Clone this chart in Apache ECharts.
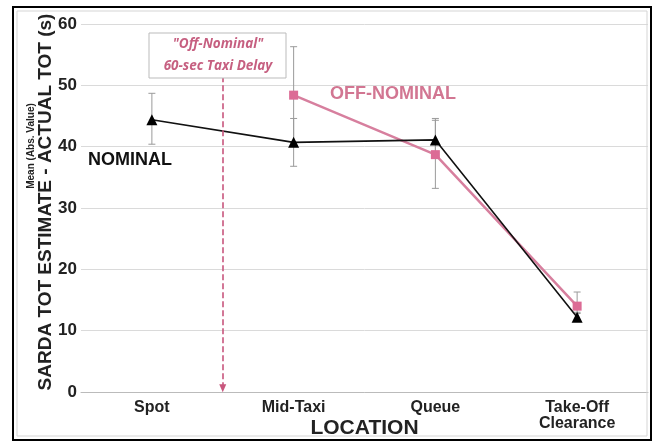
<!DOCTYPE html>
<html><head><meta charset="utf-8">
<script src="https://cdn.jsdelivr.net/npm/echarts@6/dist/echarts.min.js"></script>
<style>html,body{margin:0;padding:0;background:#fff}#c{width:655px;height:443px}</style>
</head><body><div id="c"></div>
<script>
var categories = ['Spot', 'Mid-Taxi', 'Queue', 'Take-Off\nClearance'];
var nominal = [44.4, 40.7, 41.1, 12.2];
var offNominal = [null, 48.4, 38.7, 14.0];
var nominalErr = [[0, 40.4, 48.7], [1, 36.8, 44.6], [2, 38.2, 44.3], [3, 11.6, 12.8]];
var offNominalErr = [[1, 40.6, 56.3], [2, 33.2, 44.6], [3, 13.0, 16.3]];
var yTicks = [0, 10, 20, 30, 40, 50, 60];
var delayPos = 0.5, delayTop = 51.5;

var FF = "'Liberation Sans', Arial, sans-serif";
var PINK = '#dc6b95', PINKLINE = '#d77f9e', PINKTXT = '#c65f80';

function errItem(color) {
  return function (params, api) {
    var x = api.value(0);
    var lo = api.coord([x, api.value(1)]);
    var hi = api.coord([x, api.value(2)]);
    var w = 3.5;
    var st = { stroke: color, lineWidth: 1 };
    return { type: 'group', children: [
      { type: 'line', shape: { x1: lo[0], y1: lo[1], x2: hi[0], y2: hi[1] }, style: st },
      { type: 'line', shape: { x1: lo[0] - w, y1: lo[1], x2: lo[0] + w, y2: lo[1] }, style: st },
      { type: 'line', shape: { x1: hi[0] - w, y1: hi[1], x2: hi[0] + w, y2: hi[1] }, style: st }
    ]};
  };
}

var chart = echarts.init(document.getElementById('c'));
chart.setOption({
  animation: false,
  backgroundColor: '#fff',
  grid: { left: 81, right: 7, top: 24, bottom: 51, containLabel: false, outerBoundsMode: 'none' },
  xAxis: [{
    type: 'category', data: categories, boundaryGap: true,
    axisTick: { show: false },
    axisLine: { lineStyle: { color: '#bbb', width: 1 } },
    axisLabel: { fontFamily: FF, fontWeight: 'bold', fontSize: 16, color: '#222', margin: 8, lineHeight: 16 },
    name: 'LOCATION', nameLocation: 'middle', nameGap: 36, nameMoveOverlap: false,
    nameTextStyle: { fontFamily: FF, fontWeight: 'bold', fontSize: 21, color: '#222', verticalAlign: 'middle' }
  }, {
    type: 'value', min: -0.5, max: 3.5, show: false
  }],
  yAxis: {
    type: 'value', min: yTicks[0], max: yTicks[yTicks.length - 1], interval: 10,
    axisLine: { show: false }, axisTick: { show: false },
    splitLine: { lineStyle: { color: '#dadada', width: 1 } },
    axisLabel: { fontFamily: FF, fontWeight: 'bold', fontSize: 17, color: '#222', margin: 4 }
  },
  graphic: [
    { type: 'rect', shape: { x: 13, y: 7, width: 638, height: 433 }, style: { fill: 'none', stroke: '#000', lineWidth: 2 }, z: 100 },
    { type: 'rect', shape: { x: 17, y: 11, width: 630, height: 425 }, style: { fill: 'none', stroke: '#d5d5d5', lineWidth: 1 }, z: 100 },
    { type: 'text', x: 46, y: 202, rotation: Math.PI / 2,
      style: { text: 'SARDA TOT ESTIMATE - ACTUAL TOT (s)', font: 'bold 19px ' + FF, fill: '#222', align: 'center', verticalAlign: 'middle' } },
    { type: 'text', x: 31, y: 146, rotation: Math.PI / 2,
      style: { text: 'Mean (Abs. Value)', font: 'bold 10px ' + FF, fill: '#222', align: 'center', verticalAlign: 'middle' } },
    { type: 'text', x: 130, y: 160,
      style: { text: 'NOMINAL', font: 'bold 18px ' + FF, fill: '#111', align: 'center', verticalAlign: 'middle' } },
    { type: 'text', x: 393, y: 94,
      style: { text: 'OFF-NOMINAL', font: 'bold 18px ' + FF, fill: '#d27692', align: 'center', verticalAlign: 'middle' } },
    { type: 'rect', shape: { x: 149, y: 33, width: 137, height: 45 }, style: { fill: '#fff', stroke: '#bbb', lineWidth: 1 }, z: 50 },
    { type: 'text', x: 218, y: 44, z: 51,
      style: { text: '"Off-Nominal"', font: 'italic bold 13.5px "Open Sans", sans-serif', fill: PINKTXT, align: 'center', verticalAlign: 'middle' } },
    { type: 'text', x: 218, y: 66, z: 51,
      style: { text: '60-sec Taxi Delay', font: 'italic bold 13.5px "Open Sans", sans-serif', fill: PINKTXT, align: 'center', verticalAlign: 'middle' } }
  ],
  series: [
    {
      type: 'line', xAxisIndex: 1, data: [], silent: true,
      markLine: {
        silent: true, symbol: ['none', 'triangle'], symbolSize: [7, 8],
        label: { show: false },
        lineStyle: { color: '#c8567d', type: [6, 3], width: 1.6 },
        data: [[{ coord: [delayPos, delayTop], symbol: 'none' }, { coord: [delayPos, 0.6], itemStyle: { color: '#8d7f85' } }]]
      }
    },
    { type: 'custom', name: 'offErr', renderItem: errItem('#9a9a9a'), data: offNominalErr, z: 2 },
    { type: 'custom', name: 'nomErr', renderItem: errItem('#9a9a9a'), data: nominalErr, z: 2 },
    {
      type: 'line', name: 'OFF-NOMINAL', data: offNominal, z: 3,
      symbol: 'rect', symbolSize: 9,
      lineStyle: { color: PINKLINE, width: 2.5 },
      itemStyle: { color: PINK }
    },
    {
      type: 'line', name: 'NOMINAL', data: nominal, z: 4,
      symbol: 'triangle', symbolSize: 11,
      lineStyle: { color: '#111', width: 1.6 },
      itemStyle: { color: '#000' }
    }
  ]
});
</script></body></html>
